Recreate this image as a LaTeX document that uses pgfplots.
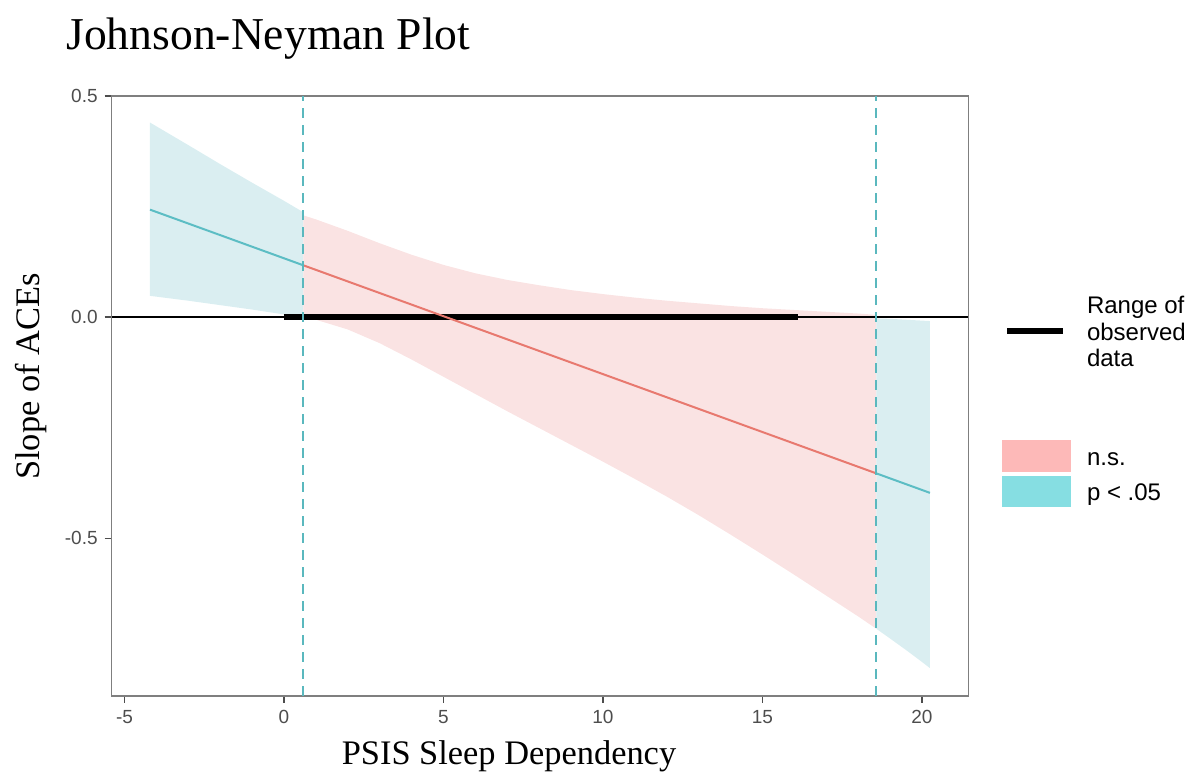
\documentclass[border=0pt]{standalone}
\usepackage{fontspec}
\setmainfont{Liberation Serif}
\setsansfont{Liberation Sans}
\usepackage{pgfplots}
\pgfplotsset{compat=1.18}
\usepackage{pgfplotstable}
\usepgfplotslibrary{fillbetween}

\definecolor{pinkband}{HTML}{FAE3E3}
\definecolor{tealband}{HTML}{DAEEF1}
\definecolor{pinkline}{HTML}{E8796F}
\definecolor{tealline}{HTML}{5CBDC4}
\definecolor{tealdash}{HTML}{5AB8BE}
\definecolor{nskey}{HTML}{FDB9B8}
\definecolor{pkey}{HTML}{86DEE2}
\definecolor{axisgrey}{HTML}{7F7F7F}
\definecolor{tickgrey}{HTML}{4D4D4D}

\pgfplotstableread{
x fit lo hi
-4.2 0.2430 0.048 0.440
-3 0.2116 0.037 0.389
-2 0.1854 0.027 0.346
-1 0.1592 0.017 0.304
0 0.1330 0.006 0.263
0.61 0.1170 0.000 0.237
}\tealL

\pgfplotstableread{
x fit lo hi
0.61 0.1170 0.000 0.230
1 0.1068 -0.006 0.221
2 0.0806 -0.028 0.195
3 0.0544 -0.059 0.167
4 0.0282 -0.096 0.141
5 0.0020 -0.135 0.118
6 -0.0242 -0.174 0.099
7 -0.0504 -0.213 0.084
8 -0.0766 -0.251 0.072
9 -0.1028 -0.289 0.061
10 -0.1290 -0.327 0.052
11 -0.1552 -0.366 0.044
12 -0.1814 -0.406 0.037
13 -0.2076 -0.448 0.031
14 -0.2338 -0.492 0.025
15 -0.2600 -0.537 0.020
16 -0.2862 -0.583 0.016
17 -0.3124 -0.630 0.012
18 -0.3386 -0.677 0.008
18.57 -0.3535 -0.705 0.005
}\pinkM

\pgfplotstableread{
x fit lo hi
18.57 -0.3535 -0.705 -0.003
19 -0.3648 -0.727 -0.004
19.5 -0.3779 -0.753 -0.006
20 -0.3910 -0.780 -0.008
20.25 -0.3976 -0.794 -0.009
}\tealR

\begin{document}
\begin{tikzpicture}
\begin{axis}[
  at={(55.85pt,39pt)}, anchor=south west,
  scale only axis, width=428.25pt, height=300pt,
  xmin=-5.4, xmax=21.45, ymin=-0.857, ymax=0.5,
  xtick={-5,0,5,10,15,20}, xticklabels={-5,0,5,10,15,20},
  ytick={-0.5,0,0.5}, yticklabels={-0.5,0.0,0.5},
  tick pos=left, tick align=outside, major tick length=3.5pt,
  axis line style={axisgrey, line width=0.6pt},
  tick style={tickgrey, line width=0.6pt},
  ticklabel style={font=\sffamily\fontsize{9.5}{11}\selectfont, text=tickgrey},
]
% bands
\addplot[name path=tLh, draw=none, forget plot] table[x=x,y=hi]{\tealL};
\addplot[name path=tLl, draw=none, forget plot] table[x=x,y=lo]{\tealL};
\addplot[tealband, draw=none] fill between[of=tLh and tLl];
\addplot[name path=pMh, draw=none, forget plot] table[x=x,y=hi]{\pinkM};
\addplot[name path=pMl, draw=none, forget plot] table[x=x,y=lo]{\pinkM};
\addplot[pinkband, draw=none] fill between[of=pMh and pMl];
\addplot[name path=tRh, draw=none, forget plot] table[x=x,y=hi]{\tealR};
\addplot[name path=tRl, draw=none, forget plot] table[x=x,y=lo]{\tealR};
\addplot[tealband, draw=none] fill between[of=tRh and tRl];
% zero line and observed range
\addplot[black, line width=0.7pt] coordinates {(-5.4,0) (21.45,0)};
\addplot[black, line width=3.2pt] coordinates {(0,0) (16.1,0)};
% slope lines
\addplot[tealline, line width=1pt] table[x=x,y=fit]{\tealL};
\addplot[pinkline, line width=1pt] table[x=x,y=fit]{\pinkM};
\addplot[tealline, line width=1pt] table[x=x,y=fit]{\tealR};
% JN boundaries
\addplot[tealdash, line width=1pt, dash pattern=on 5pt off 3.5pt] coordinates {(0.61,-0.857) (0.61,0.5)};
\addplot[tealdash, line width=1pt, dash pattern=on 5pt off 3.5pt] coordinates {(18.57,-0.857) (18.57,0.5)};
\end{axis}
% titles
\node[anchor=base west, inner sep=0, font=\fontsize{22.8}{25}\selectfont] at (33pt,362.2pt) {Johnson-Neyman Plot};
\node[anchor=base, inner sep=0, font=\fontsize{17.2}{19}\selectfont] at (254.5pt,4.5pt) {PSIS Sleep Dependency};
\node[anchor=base, rotate=90, inner sep=0, font=\fontsize{17.2}{19}\selectfont] at (20pt,198.75pt) {Slope of ACEs};
% legend
\draw[black, line width=3pt] (503.5pt,221.5pt) -- (531.5pt,221.5pt);
\node[anchor=base west, inner sep=0, font=\sffamily\fontsize{12}{13}\selectfont] at (543.3pt,230pt) {Range of};
\node[anchor=base west, inner sep=0, font=\sffamily\fontsize{12}{13}\selectfont] at (543.3pt,216.7pt) {observed};
\node[anchor=base west, inner sep=0, font=\sffamily\fontsize{12}{13}\selectfont] at (543.3pt,203.7pt) {data};
\fill[nskey] (500.85pt,151.15pt) rectangle (535.35pt,167pt);
\fill[pkey] (500.85pt,133.35pt) rectangle (535.35pt,149.15pt);
\node[anchor=base west, inner sep=0, font=\sffamily\fontsize{12}{13}\selectfont] at (543.3pt,154.3pt) {n.s.};
\node[anchor=base west, inner sep=0, font=\sffamily\fontsize{12}{13}\selectfont] at (543.3pt,136.8pt) {p < .05};
\path (0,0) rectangle (599pt,387pt);
\end{tikzpicture}
\end{document}
